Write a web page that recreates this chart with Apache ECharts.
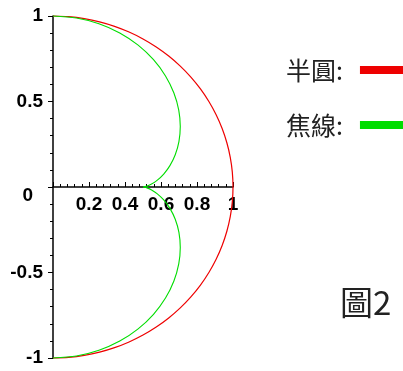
<!DOCTYPE html>
<html>
<head>
<meta charset="utf-8">
<script src="https://cdn.jsdelivr.net/npm/echarts@6/dist/echarts.min.js"></script>
<style>
  html, body { margin: 0; padding: 0; background: #fff; }
  #chart { width: 403px; height: 371px; }
</style>
</head>
<body>
<div id="chart"></div>
<script>
// Semicircle mirror (x >= 0), listed from bottom (y = -1) to top (y = 1)
const circleX = [0, 0.0872, 0.1736, 0.2588, 0.3420, 0.4226, 0.5000, 0.5736, 0.6428, 0.7071,
  0.7660, 0.8192, 0.8660, 0.9063, 0.9397, 0.9659, 0.9848, 0.9962, 1,
  0.9962, 0.9848, 0.9659, 0.9397, 0.9063, 0.8660, 0.8192, 0.7660, 0.7071,
  0.6428, 0.5736, 0.5000, 0.4226, 0.3420, 0.2588, 0.1736, 0.0872, 0];
const circleY = [-1, -0.9962, -0.9848, -0.9659, -0.9397, -0.9063, -0.8660, -0.8192, -0.7660, -0.7071,
  -0.6428, -0.5736, -0.5000, -0.4226, -0.3420, -0.2588, -0.1736, -0.0872, 0,
  0.0872, 0.1736, 0.2588, 0.3420, 0.4226, 0.5000, 0.5736, 0.6428, 0.7071,
  0.7660, 0.8192, 0.8660, 0.9063, 0.9397, 0.9659, 0.9848, 0.9962, 1];

// Caustic of the reflected rays, lower branch then upper branch (cusp at index 18)
const causticX = [0, 0.1301, 0.2552, 0.3709, 0.4730, 0.5584, 0.6250, 0.6717, 0.6986, 0.7071,
  0.6996, 0.6791, 0.6495, 0.6151, 0.5797, 0.5477, 0.5221, 0.5057, 0.5,
  0.5057, 0.5221, 0.5477, 0.5797, 0.6151, 0.6495, 0.6791, 0.6996, 0.7071,
  0.6986, 0.6717, 0.6250, 0.5584, 0.4730, 0.3709, 0.2552, 0.1301, 0];
const causticY = [-1, -0.9886, -0.9551, -0.9012, -0.8298, -0.7444, -0.6495, -0.5497, -0.4495, -0.3536,
  -0.2656, -0.1887, -0.1250, -0.0755, -0.0400, -0.0173, -0.0052, -0.0007, 0,
  0.0007, 0.0052, 0.0173, 0.0400, 0.0755, 0.1250, 0.1887, 0.2656, 0.3536,
  0.4495, 0.5497, 0.6495, 0.7444, 0.8298, 0.9012, 0.9551, 0.9886, 1];
const cuspIndex = 18;

const seriesNames = ['半圓', '焦線'];
const figureTitle = '圖2';

const pairs = (xs, ys) => xs.map((x, i) => [x, ys[i]]);
const circleData = pairs(circleX, circleY);
const causticData = pairs(causticX, causticY);

const labelFont = {
  color: '#000',
  fontFamily: '"Liberation Sans", Arial, sans-serif',
  fontWeight: 'bold',
  fontSize: 19
};

const chart = echarts.init(document.getElementById('chart'), null, { renderer: 'canvas' });

const lineBase = {
  type: 'line',
  showSymbol: false,
  smooth: 0.3,
  clip: false,
  animation: false
};

// plot area geometry
const gridTop = 16, gridBottom = 13, chartHeight = 371;
const plotHeight = chartHeight - gridTop - gridBottom;

chart.setOption({
  animation: false,
  title: {
    text: figureTitle,
    left: 335,
    top: 281,
    textStyle: {
      fontFamily: '"Noto Sans CJK TC", "Noto Sans CJK SC", sans-serif',
      fontWeight: 'normal',
      fontSize: 33,
      color: '#222'
    }
  },
  legend: {
    orient: 'vertical',
    align: 'right',
    left: 281,
    top: 51,
    itemGap: 27,
    itemWidth: 70,
    itemHeight: 8,
    icon: 'rect',
    data: seriesNames,
    formatter: name => name + ':',
    textStyle: {
      fontFamily: '"Noto Sans CJK TC", "Noto Sans CJK SC", sans-serif',
      fontSize: 25,
      lineHeight: 28,
      color: '#222',
      padding: [0, 12, 0, 0]
    }
  },
  grid: { left: 53, right: 170, top: gridTop, bottom: gridBottom, outerBoundsMode: 'none', containLabel: false },
  xAxis: {
    type: 'value',
    min: 0,
    max: 1,
    interval: 0.2,
    position: 'bottom',
    // axis drawn through y = 0, halfway up the plot
    offset: -plotHeight / 2,
    axisLine: { onZero: false, lineStyle: { color: '#000', width: 1.5 } },
    axisTick: { inside: true, length: 5, lineStyle: { color: '#000' } },
    minorTick: { show: true, splitNumber: 5, length: 3, lineStyle: { color: '#000' } },
    splitLine: { show: false },
    axisLabel: Object.assign({
      margin: 8,
      formatter: v => (v === 0 ? '' : String(Math.round(v * 10) / 10))
    }, labelFont)
  },
  yAxis: {
    type: 'value',
    min: -1,
    max: 1,
    interval: 0.5,
    axisLine: { onZero: false, lineStyle: { color: '#000', width: 1.5 } },
    axisTick: { length: 5, lineStyle: { color: '#000' } },
    minorTick: { show: true, splitNumber: 5, length: 3, lineStyle: { color: '#000' } },
    splitLine: { show: false },
    axisLabel: Object.assign({
      margin: 10,
      formatter: v => (v === 0 ? '{z|0}' : String(v)),
      rich: {
        z: Object.assign({ padding: [18, 10, 0, 0] }, labelFont)
      }
    }, labelFont)
  },
  series: [
    Object.assign({}, lineBase, {
      name: seriesNames[0],
      color: '#ee0000',
      lineStyle: { width: 1.2 },
      data: circleData
    }),
    Object.assign({}, lineBase, {
      name: seriesNames[1],
      color: '#00dd00',
      lineStyle: { width: 1.1 },
      data: causticData.slice(0, cuspIndex + 1)
    }),
    Object.assign({}, lineBase, {
      name: seriesNames[1],
      color: '#00dd00',
      lineStyle: { width: 1.1 },
      data: causticData.slice(cuspIndex)
    })
  ]
});
</script>
</body>
</html>
